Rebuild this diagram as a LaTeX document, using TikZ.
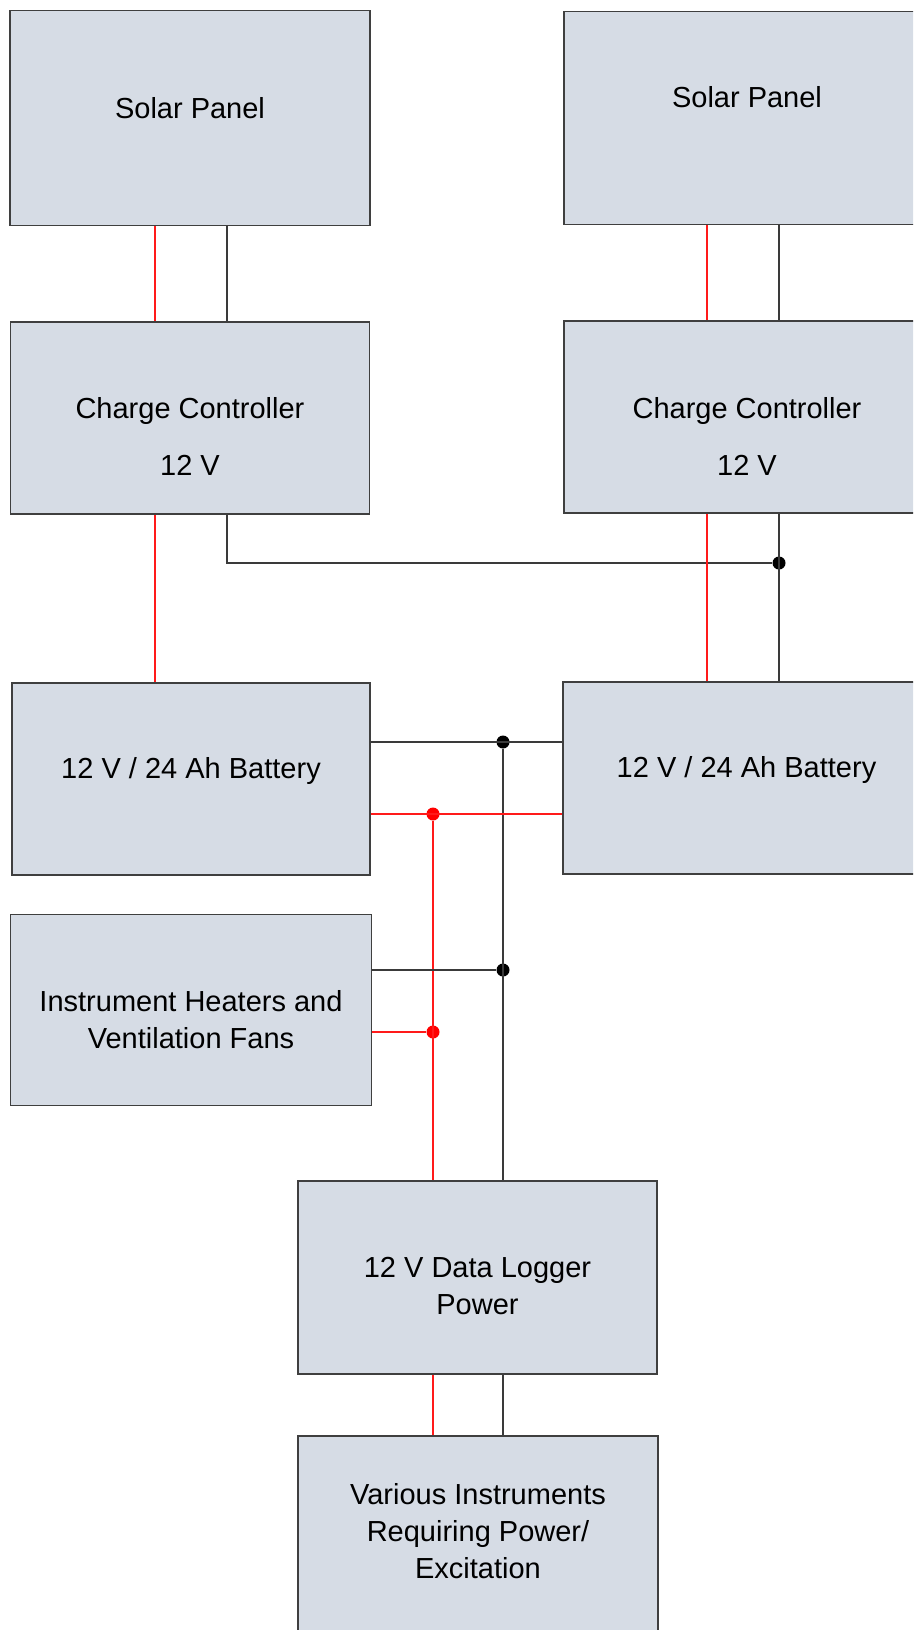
\documentclass[tikz,border=0pt]{standalone}
\usepackage{fontspec}
\setmainfont{Liberation Sans}
\usetikzlibrary{positioning}
\definecolor{boxfill}{HTML}{D6DCE5}
\definecolor{boxline}{HTML}{3F3F3F}
\definecolor{negcol}{HTML}{3A3A3A}
\definecolor{poscol}{HTML}{FF1A1A}

\begin{document}
\begin{tikzpicture}[x=1pt, y=-1pt,
  box/.style={draw=boxline, fill=boxfill, line width=1.3pt, inner sep=0pt},
  txt/.style={align=center, font=\fontsize{29}{37}\selectfont, text=black},
  poswire/.style={draw=poscol, line width=1.1pt},
  negwire/.style={draw=negcol, line width=1.3pt},
  jn/.style={circle, inner sep=0pt, minimum size=13pt},
]
\useasboundingbox (0,0) rectangle (913,1630);
\fill[white] (0,0) rectangle (913,1630);
\clip (0,0) rectangle (913,1630);

% boxes
\node[box, minimum width=360, minimum height=215,
  label={[txt,yshift=10]center:Solar Panel}] (spl) at (190,118) {};
\node[box, minimum width=366, minimum height=213,
  label={[txt,yshift=21]center:Solar Panel}] (spr) at (747,118) {};
\node[box, minimum width=359, minimum height=192,
  label={[txt,yshift=-18]center:Charge Controller\\[20pt]12 V}] (ccl) at (190,418) {};
\node[box, minimum width=366, minimum height=192,
  label={[txt,yshift=-19]center:Charge Controller\\[20pt]12 V}] (ccr) at (747,417) {};
\node[box, minimum width=358, minimum height=192,
  label={[txt,yshift=8]center:12 V / 24 Ah Battery}] (batl) at (191,779) {};
\node[box, minimum width=367, minimum height=192,
  label={[txt,yshift=8]center:12 V / 24 Ah Battery}] (batr) at (746.5,778) {};
\node[box, minimum width=361, minimum height=191,
  label={[txt,yshift=-10]center:Instrument Heaters and\\Ventilation Fans}] (heat) at (191,1010) {};
\node[box, minimum width=359, minimum height=193,
  label={[txt,yshift=-8]center:12 V Data Logger\\Power}] (dl) at (477.5,1277.5) {};
\node[box, minimum width=360, minimum height=230,
  label={[txt,yshift=20]center:Various Instruments\\Requiring Power/\\Excitation}] (var) at (478,1551) {};

% junctions
\node[jn, fill=black] (jcc) at (779,563) {};
\node[jn, fill=black] (jbn) at (503,742) {};
\node[jn, fill=red] (jbp) at (433,814) {};
\node[jn, fill=black] (jhn) at (503,970) {};
\node[jn, fill=red] (jhp) at (433,1032) {};

\coordinate (rl) at (155,0);
\coordinate (bl) at (227,0);
\coordinate (rr) at (707,0);
\coordinate (br) at (779,0);

% wires
\draw[poswire] (rl |- spl.south) -- (rl |- ccl.north);
\draw[negwire] (bl |- spl.south) -- (bl |- ccl.north);
\draw[poswire] (rl |- ccl.south) -- (rl |- batl.north);
\draw[negwire] (bl |- ccl.south) |- (jcc);
\draw[poswire] (rr |- spr.south) -- (rr |- ccr.north);
\draw[negwire] (br |- spr.south) -- (br |- ccr.north);
\draw[poswire] (rr |- ccr.south) -- (rr |- batr.north);
\draw[negwire] (br |- ccr.south) -- (br |- batr.north);
\draw[negwire] (batl.east |- jbn) -- (batr.west |- jbn);
\draw[negwire] (jbn) -- (jbn |- dl.north);
\draw[poswire] (batl.east |- jbp) -- (batr.west |- jbp);
\draw[poswire] (jbp) -- (jbp |- dl.north);
\draw[negwire] (heat.east |- jhn) -- (jhn);
\draw[poswire] (heat.east |- jhp) -- (jhp);
\draw[poswire] (jbp |- dl.south) -- (jbp |- var.north);
\draw[negwire] (jbn |- dl.south) -- (jbn |- var.north);
\end{tikzpicture}
\end{document}
